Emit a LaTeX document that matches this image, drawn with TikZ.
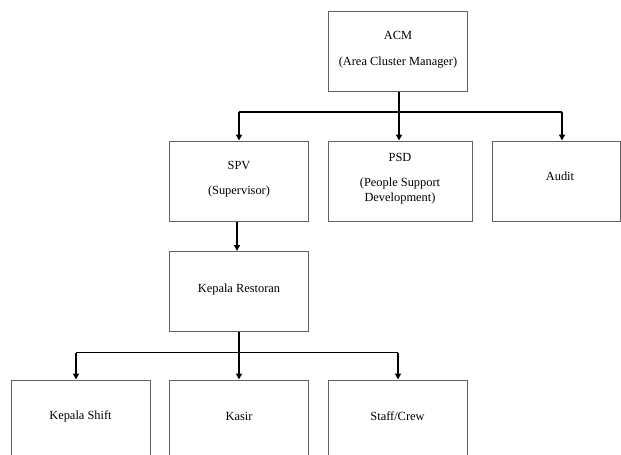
\documentclass[tikz,border=0pt]{standalone}
\usepackage{fontspec}
\setmainfont{Liberation Serif}
\usetikzlibrary{arrows.meta,calc}
\begin{document}
\begin{tikzpicture}[x=1pt,y=-1pt,
  box/.style={draw=black!62,line width=1pt,minimum width=139pt,minimum height=80pt,inner sep=0pt,fill=white},
  txt/.style={inner sep=0pt,anchor=base,font=\fontsize{12.4}{14}\selectfont},
  conn/.style={draw=black,line width=1.5pt},
  arr/.style={conn,-{Triangle[width=6pt,length=6pt]}}]
\useasboundingbox (0,0) rectangle (621,455);
\fill[white] (0,0) rectangle (621,455);
\begin{scope}
\clip (0,0) rectangle (621,455);
% boxes
\node[box] (acm) at (398,51) {};
\node[box] (spv) at (238.5,181) {};
\node[box,minimum width=144pt] (psd) at (400,181) {};
\node[box,minimum width=128pt] (audit) at (556,181) {};
\node[box] (kr) at (239,291.5) {};
\node[box] (ks) at (80.5,420) {};
\node[box] (kasir) at (239,420) {};
\node[box] (crew) at (397.5,420) {};
% texts
\node[txt] (t1) at (398,39) {ACM};
\node[txt] (t2) at (398,65) {(Area Cluster Manager)};
\node[txt] (t3) at (239,169) {SPV};
\node[txt] (t4) at (239,194) {(Supervisor)};
\node[txt] (t5) at (400,161) {PSD};
\node[txt] (t6) at (400,186) {(People Support};
\node[txt] (t7) at (400,201) {Development)};
\node[txt] (t8) at (560,180) {Audit};
\node[txt] (t9) at (239,292) {Kepala Restoran};
\node[txt] (t10) at (80.5,419) {Kepala Shift};
\node[txt] (t11) at (239,420) {Kasir};
\node[txt] (t12) at (397.5,420) {Staff/Crew};
% connectors level 1
\coordinate (b1) at (399,112);
\coordinate (b1l) at (239,112);
\coordinate (b1r) at (562,112);
\draw[conn] (b1 |- acm.south) -- (b1);
\draw[conn] (b1l) -- (b1r);
\draw[arr] (b1l) -- (b1l |- spv.north);
\draw[arr] (b1) -- (b1 |- psd.north);
\draw[arr] (b1r) -- (b1r |- audit.north);
% spv -> kr
\coordinate (c2) at (237,221);
\draw[arr] (c2 |- spv.south) -- (c2 |- kr.north);
% level 3
\coordinate (b3) at (239,352.5);
\coordinate (b3l) at (76,352.5);
\coordinate (b3r) at (398,352.5);
\draw[conn] (kr.south) -- (b3);
\draw[conn] (b3l) -- (b3r);
\draw[arr] (b3l) -- (b3l |- ks.north);
\draw[arr] (b3) -- (b3 |- kasir.north);
\draw[arr] (b3r) -- (b3r |- crew.north);
\end{scope}
\end{tikzpicture}
\end{document}
